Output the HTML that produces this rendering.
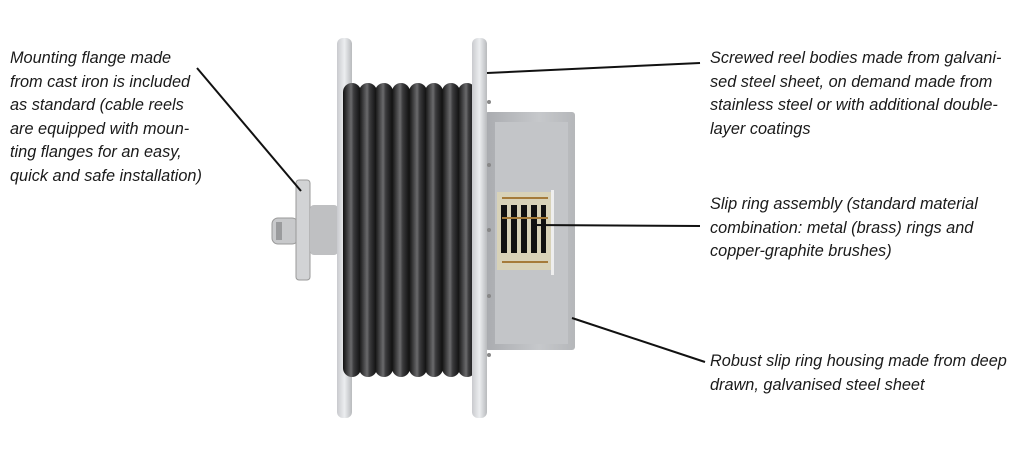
<!DOCTYPE html>
<html><head><style>
body{margin:0;width:1024px;height:468px;background:#fff;position:relative;overflow:hidden;font-family:"Liberation Sans",sans-serif;}
.t{position:absolute;font-style:italic;font-size:16.3px;line-height:23.5px;color:#1a1a1a;white-space:nowrap;}
</style></head><body>
<svg width="1024" height="468" style="position:absolute;left:0;top:0">
<defs>
<linearGradient id="fl" x1="0" x2="1"><stop offset="0" stop-color="#c9cace"/><stop offset=".5" stop-color="#eceef0"/><stop offset="1" stop-color="#b8babd"/></linearGradient>
<linearGradient id="coil" x1="0" x2="1"><stop offset="0" stop-color="#111"/><stop offset=".45" stop-color="#6a6a6c"/><stop offset=".6" stop-color="#3a3a3c"/><stop offset="1" stop-color="#0c0c0c"/></linearGradient>
<linearGradient id="hs" x1="0" x2="1"><stop offset="0" stop-color="#a9abaf"/><stop offset=".6" stop-color="#c6c8cb"/><stop offset="1" stop-color="#b5b7ba"/></linearGradient>
</defs>
<rect x="272" y="218" width="26" height="26" rx="6" fill="#c8c9cb" stroke="#999"/>
<rect x="276" y="222" width="6" height="18" fill="#9a9b9d"/>
<rect x="296" y="180" width="14" height="100" rx="3" fill="#d2d3d5" stroke="#999"/>
<rect x="310" y="205" width="28" height="50" rx="4" fill="#bfc0c2"/>
<rect x="337" y="38" width="15" height="380" rx="6" fill="url(#fl)"/>
<g>
<rect x="343" y="83" width="18" height="294" rx="9" fill="url(#coil)"/>
<rect x="359" y="83" width="18" height="294" rx="9" fill="url(#coil)"/>
<rect x="375" y="83" width="18" height="294" rx="9" fill="url(#coil)"/>
<rect x="392" y="83" width="18" height="294" rx="9" fill="url(#coil)"/>
<rect x="409" y="83" width="18" height="294" rx="9" fill="url(#coil)"/>
<rect x="425" y="83" width="18" height="294" rx="9" fill="url(#coil)"/>
<rect x="442" y="83" width="18" height="294" rx="9" fill="url(#coil)"/>
<rect x="458" y="83" width="18" height="294" rx="9" fill="url(#coil)"/>
</g>
<rect x="485" y="112" width="90" height="238" rx="3" fill="url(#hs)"/>
<rect x="495" y="122" width="73" height="222" fill="#c3c5c8"/>
<rect x="472" y="38" width="15" height="380" rx="6" fill="url(#fl)"/>
<g fill="#888"><circle cx="489" cy="102" r="2"/><circle cx="489" cy="165" r="2"/><circle cx="489" cy="230" r="2"/><circle cx="489" cy="296" r="2"/><circle cx="489" cy="355" r="2"/></g>
<rect x="497" y="192" width="54" height="78" fill="#d8d2b8"/>
<g fill="#111"><rect x="501" y="205" width="6" height="48"/><rect x="511" y="205" width="6" height="48"/><rect x="521" y="205" width="6" height="48"/><rect x="531" y="205" width="6" height="48"/><rect x="541" y="205" width="5" height="48"/></g>
<g stroke="#a57b3a" stroke-width="2"><line x1="502" y1="218" x2="548" y2="218"/><line x1="502" y1="262" x2="548" y2="262"/><line x1="502" y1="198" x2="548" y2="198"/></g>
<rect x="551" y="190" width="3" height="85" fill="#eee"/>
<g stroke="#111" stroke-width="2">
<line x1="197" y1="68" x2="301" y2="191"/>
<line x1="487" y1="73" x2="700" y2="63"/>
<line x1="533" y1="225" x2="700" y2="226"/>
<line x1="572" y1="318" x2="705" y2="362"/>
</g>
</svg>
<div class="t" style="left:10px;top:47px">Mounting flange made<br>from cast iron is included<br>as standard (cable reels<br>are equipped with moun-<br>ting flanges for an easy,<br>quick and safe installation)</div>
<div class="t" style="left:710px;top:47px">Screwed reel bodies made from galvani-<br>sed steel sheet, on demand made from<br>stainless steel or with additional double-<br>layer coatings</div>
<div class="t" style="left:710px;top:193px">Slip ring assembly (standard material<br>combination: metal (brass) rings and<br>copper-graphite brushes)</div>
<div class="t" style="left:710px;top:350px">Robust slip ring housing made from deep<br>drawn, galvanised steel sheet</div>
</body></html>
